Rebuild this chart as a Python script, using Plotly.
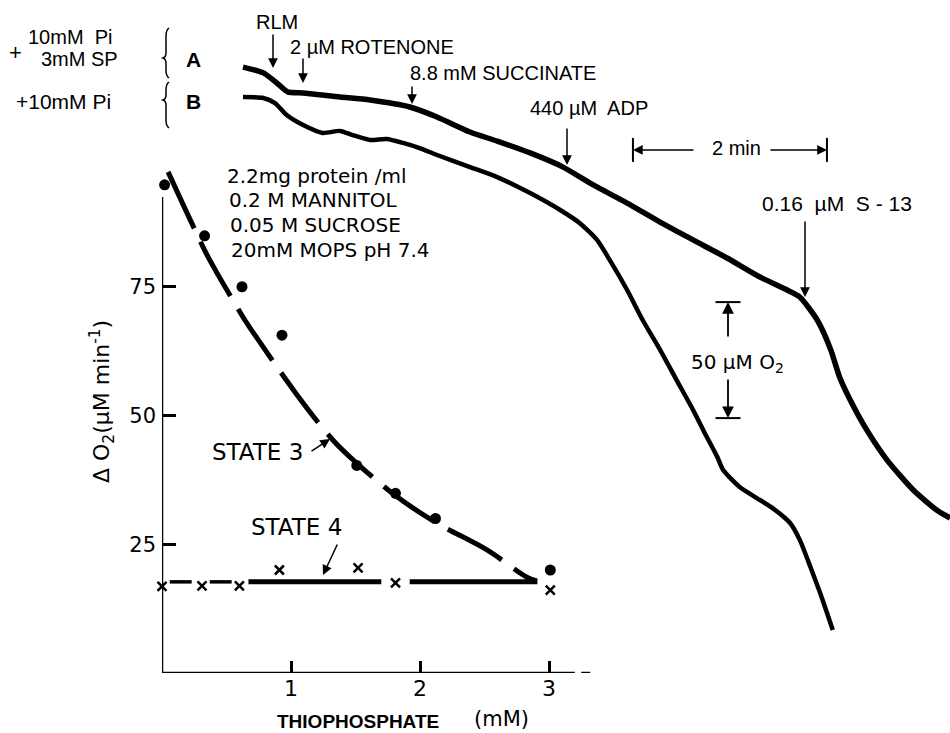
import plotly.graph_objects as go

W, H = 950, 733
FONT = "Liberation Sans"
FONT2 = "DejaVu Sans"

# ---------------- inset: rate vs thiophosphate ----------------
thio_dots = [0.02, 0.33, 0.62, 0.93, 1.51, 1.81, 2.12, 3.01]
state3_rate = [94.8, 84.9, 75.0, 65.6, 40.3, 34.9, 30.0, 20.0]
thio_cross = [0.0, 0.31, 0.60, 0.91, 1.52, 1.81, 3.01]
state4_rate = [16.8, 16.9, 16.9, 20.0, 20.4, 17.5, 16.1]

fit3_x = [0.047, 0.256, 0.357, 0.651, 0.721, 1.047, 1.326, 1.481, 1.822, 2.132, 2.519, 2.829, 2.907]
fit3_y = [97.3, 86.0, 80.8, 68.2, 65.6, 54.0, 45.2, 41.4, 34.2, 29.1, 23.9, 18.6, 17.9]

state4_dash_x = [0.06, 0.23, None, 0.37, 0.54]
state4_dash_y = [17.7, 17.7, None, 17.7, 17.7]
state4_solid_x = [0.67, 1.70, None, 1.92, 2.91]
state4_solid_y = [17.7, 17.7, None, 17.7, 17.7]

x_ticks = [1, 2, 3]
y_ticks = [25, 50, 75]

# ---------------- oxygen electrode traces ----------------
traceA_t = [0.00, 0.21, 0.35, 0.46, 0.62, 1.00, 1.31, 1.72, 2.00, 2.34, 2.62, 2.96, 3.30,
            3.61, 3.96, 4.30, 4.64, 4.99, 5.33, 5.61, 5.74, 5.92, 6.06, 6.15, 6.26, 6.43,
            6.64, 6.91, 7.15, 7.29]
traceA_o2 = [279.1, 276.6, 272.2, 268.4, 267.9, 266.2, 264.9, 261.9, 257.6, 251.1, 247.2,
             242.1, 236.0, 228.3, 220.5, 212.3, 204.6, 196.8, 188.6, 183.0, 180.0, 170.1,
             157.2, 145.5, 135.6, 122.7, 109.7, 96.8, 88.2, 84.7]
traceB_t = [0.00, 0.21, 0.33, 0.45, 0.62, 0.82, 1.00, 1.13, 1.31, 1.48, 1.65, 1.82, 2.00,
            2.34, 2.62, 2.96, 3.27, 3.47, 3.65, 3.78, 3.96, 4.12, 4.30, 4.47, 4.64, 4.76,
            4.89, 4.95, 5.12, 5.33, 5.46, 5.64, 5.74, 5.85, 5.95, 6.08]
traceB_o2 = [266.2, 265.8, 263.6, 258.4, 254.1, 250.7, 251.6, 249.8, 247.7, 248.1, 246.4,
             244.2, 241.2, 236.0, 231.7, 224.8, 217.5, 211.9, 204.6, 196.0, 183.0, 170.1,
             157.2, 144.2, 131.3, 121.4, 111.0, 105.4, 98.1, 92.5, 89.0, 82.6, 75.3, 63.6,
             52.4, 36.5]

time_bar_start, time_bar_len, time_bar_o2 = 4.02, 2.0, 243.4
o2_bar_t, o2_bar_bottom, o2_bar_len = 5.0, 127.8, 50.0

# pixel scales of the drawing
X0_PX, X_PX_PER_MM = 162, 129.0
Y0_PX, Y_PX_PER_UNIT = 673, 5.15
T0_PX, T_PX_PER_MIN = 243, 97.0
O2_TOP_PX, O2_TOP, O2_PX_PER_UM = 65, 280.0, 2.32


def px(x, y):
    return x / W, 1 - y / H


fig = go.Figure()

# traces A and B
fig.add_trace(go.Scatter(x=traceA_t, y=traceA_o2, mode="lines", xaxis="x2", yaxis="y2",
                         line=dict(color="black", width=5.5, shape="spline", smoothing=0.6)))
fig.add_trace(go.Scatter(x=traceB_t, y=traceB_o2, mode="lines", xaxis="x2", yaxis="y2",
                         line=dict(color="black", width=4.5, shape="spline", smoothing=0.6)))

# inset
fig.add_trace(go.Scatter(x=fit3_x, y=fit3_y, mode="lines",
                         line=dict(color="black", width=5, dash="62px,15px", shape="spline")))
fig.add_trace(go.Scatter(x=state4_dash_x, y=state4_dash_y, mode="lines",
                         line=dict(color="black", width=3.5)))
fig.add_trace(go.Scatter(x=state4_solid_x, y=state4_solid_y, mode="lines",
                         line=dict(color="black", width=5)))
fig.add_trace(go.Scatter(x=thio_dots, y=state3_rate, mode="markers", cliponaxis=False,
                         marker=dict(symbol="circle", size=11, color="black")))
fig.add_trace(go.Scatter(x=thio_cross, y=state4_rate, mode="markers", cliponaxis=False,
                         marker=dict(symbol="x-thin", size=9, color="black",
                                     line=dict(color="black", width=2.5))))

shapes = []
# inset axis lines
shapes.append(dict(type="line", xref="x", yref="y", x0=0, x1=0, y0=0, y1=(Y0_PX - 197) / Y_PX_PER_UNIT,
                   line=dict(color="black", width=2.5)))
shapes.append(dict(type="line", xref="x", yref="y", x0=0, x1=3.20, y0=0, y1=0,
                   line=dict(color="black", width=2.5)))
shapes.append(dict(type="line", xref="x", yref="y", x0=3.25, x1=3.32, y0=0, y1=0,
                   line=dict(color="black", width=2.5)))

# time scale bar end ticks
cap_o2 = 12 / O2_PX_PER_UM
for tt in (time_bar_start, time_bar_start + time_bar_len):
    shapes.append(dict(type="line", xref="x2", yref="y2", x0=tt, x1=tt,
                       y0=time_bar_o2 - cap_o2, y1=time_bar_o2 + cap_o2,
                       line=dict(color="black", width=2)))
# O2 scale bar caps
cap_t = 12.5 / T_PX_PER_MIN
for oo in (o2_bar_bottom, o2_bar_bottom + o2_bar_len):
    shapes.append(dict(type="line", xref="x2", yref="y2", x0=o2_bar_t - cap_t, x1=o2_bar_t + cap_t,
                       y0=oo, y1=oo, line=dict(color="black", width=2)))


def brace(y0, ymid, y1, x=166):
    pts = [("M", [(x + 3, y0)]), ("Q", [(x, y0 + 2), (x, y0 + 8)]), ("L", [(x, ymid - 5)]),
           ("Q", [(x, ymid - 1), (x - 3, ymid)]), ("Q", [(x, ymid + 1), (x, ymid + 5)]),
           ("L", [(x, y1 - 8)]), ("Q", [(x, y1 - 2), (x + 3, y1)])]
    s = ""
    for cmd, plist in pts:
        s += cmd + " ".join("%.5f,%.5f" % px(a, b) for a, b in plist) + " "
    return s.strip()


shapes.append(dict(type="path", xref="paper", yref="paper", path=brace(28, 58, 78),
                   line=dict(color="black", width=1.5)))
shapes.append(dict(type="path", xref="paper", yref="paper", path=brace(82, 100, 128),
                   line=dict(color="black", width=1.5)))

ann = []


def text(s, x, y, size=20, xanchor="center", angle=0, family=FONT):
    xp, yp = px(x, y)
    ann.append(dict(text=s, x=xp, y=yp, xref="paper", yref="paper", showarrow=False,
                    xanchor=xanchor, yanchor="middle", textangle=angle,
                    font=dict(family=family, size=size, color="black")))


def arrow(xt, yt, ax, ay, width=1.5, size=1.3):
    xp, yp = px(xt, yt)
    ann.append(dict(text="", x=xp, y=yp, xref="paper", yref="paper", showarrow=True,
                    ax=ax, ay=ay, arrowhead=2, arrowsize=size, arrowwidth=width,
                    arrowcolor="black"))


# left labels
text("+", 15, 53, 22)
text("10mM  Pi", 70, 37)
text("3mM SP", 79, 59)
text("+10mM Pi", 63, 102, 21)
text("<b>A</b>", 193, 60, 21)
text("<b>B</b>", 193, 102, 21)

# events
text("RLM", 277, 22)
arrow(273, 68, 0, -35)
text("2 µM ROTENONE", 372, 47)
arrow(303, 83, 0, -26)
text("8.8 mM SUCCINATE", 503, 73)
arrow(412, 104, 0, -19)
text("440 µM  ADP", 589, 108)
arrow(567, 165, 0, -38)
text("0.16  µM  S - 13", 837, 203, 21)
arrow(805, 297, 0, -77)

# scale bars (in trace units)
for tip_t, ax in ((time_bar_start, 62), (time_bar_start + time_bar_len, -58)):
    ann.append(dict(text="", x=tip_t, y=time_bar_o2, xref="x2", yref="y2", showarrow=True,
                    ax=ax, ay=0, arrowhead=2, arrowsize=1.3, arrowwidth=1.5, arrowcolor="black"))
text("2 min", 736, 148)
ann.append(dict(text="", x=o2_bar_t, y=o2_bar_bottom + o2_bar_len, xref="x2", yref="y2",
                showarrow=True, ax=0, ay=36, arrowhead=2, arrowsize=1.3, arrowwidth=1.8,
                arrowcolor="black"))
ann.append(dict(text="", x=o2_bar_t, y=o2_bar_bottom, xref="x2", yref="y2",
                showarrow=True, ax=0, ay=-40, arrowhead=2, arrowsize=1.3, arrowwidth=1.8,
                arrowcolor="black"))
text("50 µM O<sub>2</sub>", 737, 363, 20, family=FONT2)

# inset text
text("2.2mg protein /ml", 225, 176, 20, "left", family=FONT2)
text("0.2 M MANNITOL", 227, 200, 20, "left", family=FONT2)
text("0.05 M SUCROSE", 228, 225, 20, "left", family=FONT2)
text("20mM MOPS pH 7.4", 229, 250, 20, "left", family=FONT2)
text("STATE 3", 257, 452, 23, family=FONT2)
arrow(330, 439, -20, 13)
text("STATE 4", 296, 527, 23, family=FONT2)
arrow(323, 575, 15, -32)
text("Δ O<sub>2</sub>(µM min<sup>-1</sup>)", 102, 402, 22, angle=-90, family=FONT2)
text("<b>THIOPHOSPHATE</b>", 358, 721, 19)
text("(mM)", 502, 719, 21, family=FONT2)

fig.update_layout(
    width=W, height=H, autosize=False,
    margin=dict(l=0, r=0, t=0, b=0, pad=0),
    paper_bgcolor="white", plot_bgcolor="rgba(0,0,0,0)",
    showlegend=False,
    font=dict(family=FONT, color="black"),
    xaxis=dict(domain=[X0_PX / W, 1], range=[0, (W - X0_PX) / X_PX_PER_MM], anchor="y",
               tickvals=x_ticks, ticktext=[str(v) for v in x_ticks],
               ticks="inside", ticklen=12, tickwidth=2.5, tickcolor="black",
               showline=False, showgrid=False, zeroline=False,
               tickfont=dict(family=FONT2, size=22, color="black")),
    yaxis=dict(domain=[1 - Y0_PX / H, 1], range=[0, Y0_PX / Y_PX_PER_UNIT], anchor="x",
               tickvals=y_ticks, ticktext=[str(v) for v in y_ticks],
               ticks="inside", ticklen=14, tickwidth=2.5, tickcolor="black",
               showline=False, showgrid=False, zeroline=False, ticklabelstandoff=5,
               tickfont=dict(family=FONT2, size=21, color="black")),
    xaxis2=dict(domain=[0, 1], anchor="y2", visible=False,
                range=[-T0_PX / T_PX_PER_MIN, (W - T0_PX) / T_PX_PER_MIN]),
    yaxis2=dict(domain=[0, 1], anchor="x2", visible=False,
                range=[O2_TOP - (H - O2_TOP_PX) / O2_PX_PER_UM, O2_TOP + O2_TOP_PX / O2_PX_PER_UM]),
    shapes=shapes,
    annotations=ann,
)

fig.write_html("out.html", config={"displayModeBar": False})
